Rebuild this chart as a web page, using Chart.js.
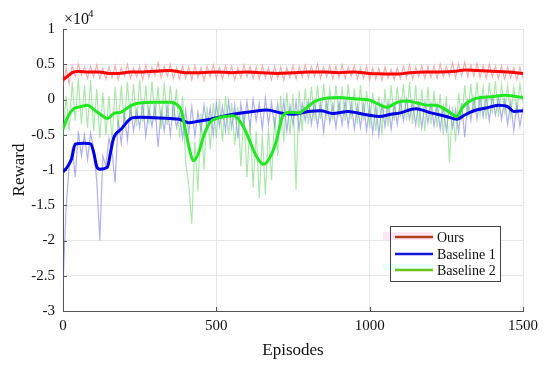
<!DOCTYPE html>
<html>
<head>
<meta charset="utf-8">
<script src="https://cdn.jsdelivr.net/npm/chart.js@4.4.1/dist/chart.umd.min.js"></script>
<style>
  html, body { margin: 0; padding: 0; background: #fff; }
  #c { display: block; }
</style>
</head>
<body>
<canvas id="c" width="550" height="367"></canvas>
<script>
// ---------- DATA (values in units of 10^4) ----------
const seriesNames = ['Ours', 'Baseline 1', 'Baseline 2'];
const yTicks = [-3, -2.5, -2, -1.5, -1, -0.5, 0, 0.5, 1];
const xTicks = [0, 500, 1000, 1500];

// raw (unsmoothed) reward, sampled every 10 episodes
const rawEpisodes = [0,10,20,30,40,50,60,70,80,90,100,110,120,130,140,150,160,170,180,190,
200,210,220,230,240,250,260,270,280,290,300,310,320,330,340,350,360,370,380,390,
400,410,420,430,440,450,460,470,480,490,500,510,520,530,540,550,560,570,580,590,
600,610,620,630,640,650,660,670,680,690,700,710,720,730,740,750,760,770,780,790,
800,810,820,830,840,850,860,870,880,890,900,910,920,930,940,950,960,970,980,990,
1000,1010,1020,1030,1040,1050,1060,1070,1080,1090,1100,1110,1120,1130,1140,1150,1160,1170,1180,1190,
1200,1210,1220,1230,1240,1250,1260,1270,1280,1290,1300,1310,1320,1330,1340,1350,1360,1370,1380,1390,
1400,1410,1420,1430,1440,1450,1460,1470,1480,1490,1500];

const oursRaw = [0.18,0.45,0.22,0.48,0.33,0.50,0.35,0.46,0.30,0.47,
0.32,0.49,0.30,0.44,0.29,0.46,0.31,0.48,0.28,0.45,
0.33,0.50,0.30,0.45,0.32,0.47,0.28,0.49,0.31,0.46,
0.34,0.52,0.31,0.47,0.33,0.50,0.30,0.45,0.29,0.47,
0.30,0.46,0.28,0.48,0.31,0.45,0.27,0.47,0.32,0.49,
0.30,0.46,0.29,0.48,0.33,0.47,0.28,0.45,0.31,0.49,
0.32,0.47,0.30,0.46,0.29,0.48,0.31,0.45,0.28,0.47,
0.30,0.46,0.27,0.45,0.31,0.48,0.29,0.46,0.32,0.49,
0.31,0.47,0.33,0.50,0.30,0.46,0.32,0.48,0.29,0.47,
0.31,0.49,0.30,0.46,0.33,0.48,0.29,0.45,0.30,0.47,
0.28,0.45,0.29,0.44,0.27,0.46,0.30,0.43,0.28,0.45,
0.30,0.47,0.31,0.49,0.29,0.46,0.32,0.48,0.30,0.47,
0.31,0.48,0.30,0.50,0.32,0.47,0.33,0.52,0.31,0.50,
0.34,0.53,0.32,0.49,0.33,0.51,0.31,0.48,0.30,0.50,
0.32,0.47,0.30,0.48,0.29,0.46,0.31,0.45,0.28,0.46,
0.30];

const baseline1Raw = [-2.65,-1.55,-0.95,-0.70,-1.10,-0.45,-0.80,-0.50,-0.85,-0.48,
-0.70,-1.15,-2.00,-0.80,-0.95,-0.55,-0.75,-1.18,-0.30,-0.62,
-0.20,-0.58,-0.10,-0.45,-0.15,-0.40,-0.05,-0.52,-0.12,-0.38,
-0.08,-0.68,-0.15,-0.45,-0.10,-0.50,-0.06,-0.40,-0.20,-0.55,
-0.15,-0.48,-0.10,-0.52,-0.18,-0.45,-0.08,-0.42,-0.12,-0.50,
-0.05,-0.38,-0.10,-0.45,-0.02,-0.40,-0.08,-0.55,-0.06,-0.35,
-0.03,-0.40,0.00,-0.30,-0.05,-0.42,0.02,-0.35,-0.04,-0.38,
-0.06,-0.40,-0.02,-0.45,-0.08,-0.36,-0.03,-0.42,-0.05,-0.30,
-0.02,-0.35,-0.04,-0.38,-0.06,-0.46,-0.03,-0.33,-0.07,-0.40,
-0.04,-0.36,-0.02,-0.38,-0.05,-0.42,-0.08,-0.40,-0.06,-0.44,
-0.10,-0.48,-0.08,-0.50,-0.06,-0.38,-0.04,-0.42,-0.07,-0.35,
-0.02,-0.30,0.00,-0.28,-0.03,-0.36,-0.05,-0.40,-0.04,-0.33,
-0.06,-0.38,-0.08,-0.42,-0.10,-0.44,-0.12,-0.40,-0.14,-0.46,
-0.05,-0.54,-0.02,-0.30,0.02,-0.28,0.03,-0.25,0.04,-0.30,
0.05,-0.22,0.02,-0.28,-0.01,-0.35,-0.04,-0.44,-0.06,-0.38,
-0.10];

const baseline2Raw = [-0.55,0.05,-0.45,0.25,-0.30,0.30,-0.35,0.20,-0.40,0.28,
-0.45,0.15,-0.55,0.10,-0.50,0.05,-0.60,0.18,-0.40,0.20,
-0.35,0.25,-0.30,0.22,-0.38,0.28,-0.32,0.20,-0.35,0.26,
-0.30,0.18,-0.42,0.24,-0.36,0.20,-0.30,0.15,-0.55,0.05,
-0.90,-1.20,-1.76,-0.60,-1.30,-0.20,-1.00,-0.10,-0.70,-0.05,
-0.55,0.00,-0.60,0.05,-0.50,-0.05,-0.65,-0.10,-0.95,-0.20,
-1.10,-0.30,-1.25,-0.45,-1.40,-0.50,-1.35,-0.40,-1.15,-0.25,
-0.80,0.05,-0.60,0.10,-0.50,0.08,-1.28,0.12,-0.45,0.15,
-0.35,0.18,-0.30,0.20,-0.28,0.22,-0.25,0.15,-0.30,0.20,
-0.25,0.18,-0.30,0.22,-0.28,0.15,-0.35,0.20,-0.30,0.12,
-0.40,0.10,-0.45,0.05,-0.50,0.15,-0.38,0.20,-0.30,0.18,
-0.25,0.22,-0.30,0.25,-0.35,0.20,-0.40,0.15,-0.45,0.18,
-0.35,0.12,-0.40,0.08,-0.50,0.05,-0.89,-0.10,-0.60,0.10,
-0.30,0.20,-0.25,0.22,-0.20,0.25,-0.22,0.18,-0.28,0.24,
-0.20,0.26,-0.25,0.22,-0.18,0.20,-0.24,0.18,-0.20,0.22,
-0.05];

// smoothed reward curves
const oursEpisodes = [0,15,30,50,80,120,150,180,220,260,300,350,370,400,450,500,550,600,650,700,750,800,850,900,950,1000,1030,1090,1130,1180,1230,1280,1310,1350,1400,1450,1500];
const oursSmooth  = [0.28,0.33,0.38,0.40,0.39,0.39,0.37,0.37,0.39,0.39,0.40,0.41,0.40,0.38,0.38,0.39,0.38,0.39,0.38,0.37,0.38,0.39,0.39,0.38,0.39,0.37,0.365,0.36,0.38,0.39,0.39,0.40,0.42,0.41,0.40,0.39,0.37];

const baseline1Episodes = [0,15,28,40,70,90,100,110,120,145,155,165,190,225,250,300,350,380,410,440,480,520,570,620,665,710,750,800,840,880,930,980,1030,1070,1100,1150,1200,1250,1285,1310,1340,1380,1420,1450,1470,1500];
const baseline1Smooth  = [-1.03,-0.95,-0.84,-0.63,-0.62,-0.63,-0.75,-0.95,-0.99,-0.96,-0.75,-0.55,-0.42,-0.26,-0.25,-0.26,-0.27,-0.28,-0.33,-0.31,-0.28,-0.24,-0.20,-0.17,-0.15,-0.19,-0.21,-0.17,-0.16,-0.20,-0.17,-0.21,-0.24,-0.21,-0.19,-0.13,-0.19,-0.24,-0.28,-0.22,-0.16,-0.12,-0.08,-0.10,-0.17,-0.16];

const baseline2Episodes = [0,15,35,60,80,100,125,145,165,190,220,250,300,350,370,385,400,415,425,440,460,480,500,530,555,570,590,610,630,655,675,695,715,740,770,790,820,860,900,950,1000,1035,1055,1090,1120,1155,1190,1215,1250,1270,1285,1300,1320,1350,1400,1440,1480,1500];
const baseline2Smooth  = [-0.42,-0.25,-0.13,-0.10,-0.08,-0.14,-0.22,-0.27,-0.20,-0.18,-0.09,-0.05,-0.04,-0.04,-0.07,-0.15,-0.45,-0.75,-0.87,-0.78,-0.50,-0.32,-0.27,-0.24,-0.23,-0.27,-0.40,-0.60,-0.80,-0.92,-0.82,-0.60,-0.25,-0.18,-0.19,-0.13,-0.03,0.02,0.03,0.01,-0.01,-0.08,-0.11,-0.04,-0.02,-0.05,-0.08,-0.08,-0.15,-0.21,-0.24,-0.13,-0.04,0.02,0.04,0.06,0.04,0.03];

// ---------- CHART ----------
const FONT = "'Liberation Serif', 'Times New Roman', serif";
const pts = (xs, ys) => xs.map((x, i) => ({ x: x, y: ys[i] }));

const decorPlugin = {
  id: 'decor',
  beforeDatasetsDraw(chart) {
    const c = chart.ctx, xs = chart.scales.x, ys = chart.scales.y, a = chart.chartArea;
    c.save();
    c.strokeStyle = '#555';
    c.lineWidth = 1;
    c.beginPath();
    xTicks.forEach(v => {
      const px = Math.round(xs.getPixelForValue(v)) + 0.5;
      c.moveTo(px, a.bottom); c.lineTo(px, a.bottom - 4);
    });
    yTicks.forEach(v => {
      const py = Math.round(ys.getPixelForValue(v)) + 0.5;
      c.moveTo(a.left, py); c.lineTo(a.left + 4, py);
    });
    c.stroke();
    c.restore();
  },
  afterDraw(chart) {
    const c = chart.ctx;
    c.save();
    // exponent label
    c.fillStyle = '#111';
    c.textBaseline = 'alphabetic';
    c.textAlign = 'left';
    c.font = '16px ' + FONT;
    c.fillText('\u00d710', 64, 24);
    c.font = '11px ' + FONT;
    c.fillText('4', 88, 17);

    // legend
    const L = 390.5, T = 226.5, W = 110, H = 55;
    c.fillStyle = '#fff';
    c.fillRect(L, T, W, H);
    c.fillStyle = 'rgba(255,215,238,0.6)';
    c.fillRect(383, 232, 50, 8);
    c.fillStyle = 'rgba(215,255,255,0.6)';
    c.fillRect(383, 264, 50, 6);
    c.strokeStyle = '#444';
    c.lineWidth = 1;
    c.strokeRect(L, T, W, H);
    const rows = [237, 254, 270];
    const cols = ['#b0401e', '#1414d8', '#6cc418'];
    c.font = '14px ' + FONT;
    c.textBaseline = 'middle';
    rows.forEach((y, i) => {
      c.strokeStyle = cols[i];
      c.lineWidth = 2.5;
      c.beginPath(); c.moveTo(395, y); c.lineTo(433, y); c.stroke();
      c.fillStyle = '#111';
      c.fillText(seriesNames[i], 437, y + 1);
    });
    c.restore();
  }
};

new Chart(document.getElementById('c').getContext('2d'), {
  type: 'line',
  data: {
    datasets: [
      { label: seriesNames[2], data: pts(baseline2Episodes, baseline2Smooth), borderColor: '#22e622', borderWidth: 3, cubicInterpolationMode: 'monotone' },
      { label: seriesNames[1], data: pts(baseline1Episodes, baseline1Smooth), borderColor: '#0000e8', borderWidth: 3, cubicInterpolationMode: 'monotone' },
      { label: seriesNames[0], data: pts(oursEpisodes, oursSmooth), borderColor: '#ff0000', borderWidth: 3, cubicInterpolationMode: 'monotone' },
      { label: seriesNames[2] + ' raw', data: pts(rawEpisodes, baseline2Raw), borderColor: 'rgba(70,205,70,0.45)', borderWidth: 1.2 },
      { label: seriesNames[1] + ' raw', data: pts(rawEpisodes, baseline1Raw), borderColor: 'rgba(80,80,225,0.45)', borderWidth: 1.2 },
      { label: seriesNames[0] + ' raw', data: pts(rawEpisodes, oursRaw), borderColor: 'rgba(235,100,100,0.5)', borderWidth: 1.2 }
    ]
  },
  options: {
    responsive: false,
    animation: false,
    layout: { padding: { left: 0, right: 27, top: 29, bottom: 0 } },
    elements: { point: { radius: 0 }, line: { tension: 0 } },
    plugins: { legend: { display: false }, tooltip: { enabled: false } },
    scales: {
      x: {
        type: 'linear', min: 0, max: 1500,
        afterBuildTicks: s => { s.ticks = xTicks.map(v => ({ value: v })); },
        ticks: { font: { family: FONT, size: 15 }, color: '#111', padding: 6, maxRotation: 0, autoSkip: false, callback: v => String(v) },
        grid: { color: '#e6e6e6', drawTicks: false },
        border: { color: '#555', width: 1 },
        title: { display: true, text: 'Episodes', font: { family: FONT, size: 17 }, color: '#111', padding: { top: 0, bottom: 6 } },
        afterFit: s => { s.height = 56; }
      },
      y: {
        type: 'linear', min: -3, max: 1,
        afterBuildTicks: s => { s.ticks = yTicks.map(v => ({ value: v })); },
        ticks: { font: { family: FONT, size: 15 }, color: '#111', padding: 8, autoSkip: false, callback: v => String(v) },
        grid: { color: '#e6e6e6', drawTicks: false },
        border: { color: '#555', width: 1 },
        title: { display: true, text: 'Reward', font: { family: FONT, size: 17 }, color: '#111', padding: { top: 9, bottom: 0 } },
        afterFit: s => { s.width = 63; }
      }
    }
  },
  plugins: [decorPlugin]
});
</script>
</body>
</html>
